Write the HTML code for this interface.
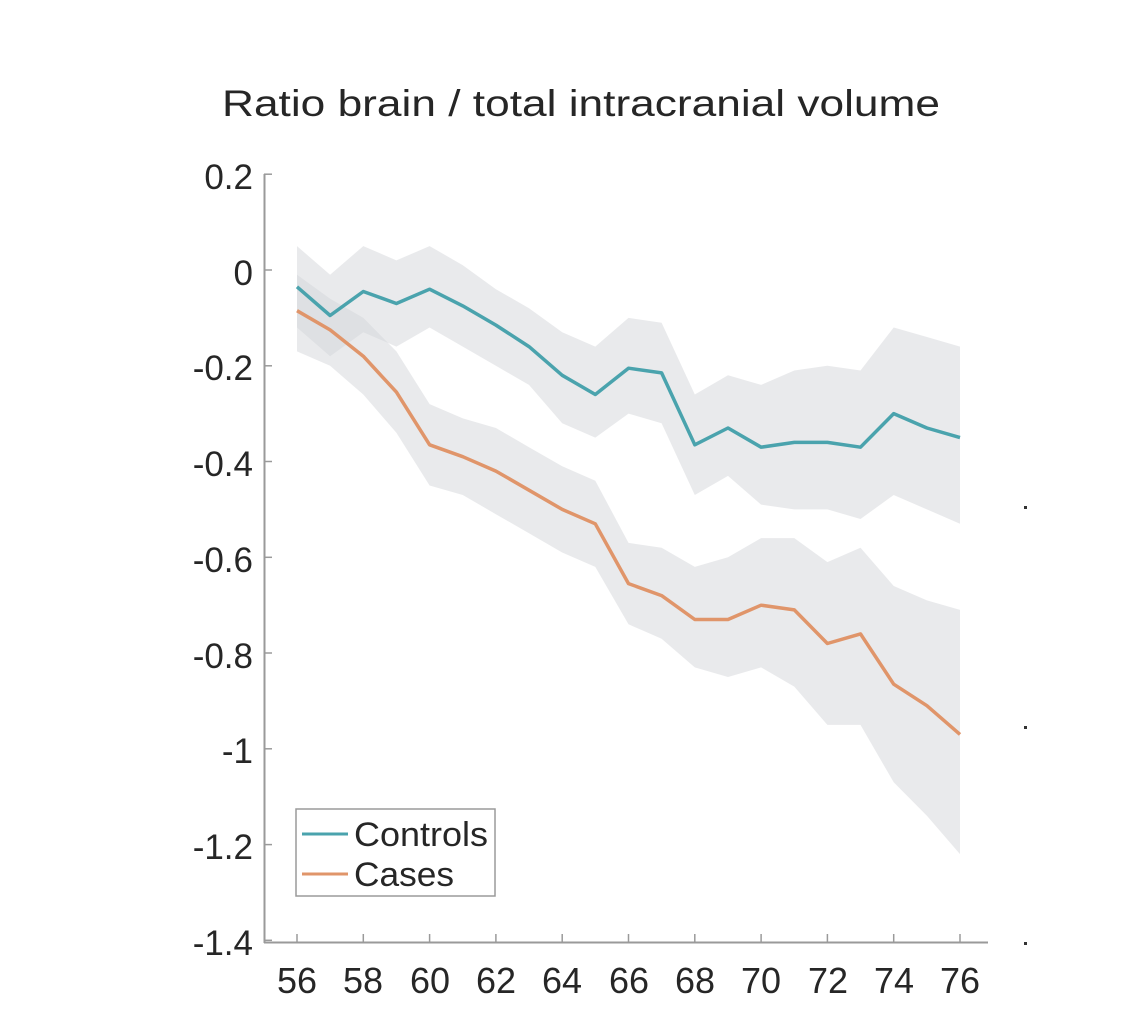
<!DOCTYPE html>
<html><head><meta charset="utf-8"><style>
html,body{margin:0;padding:0;background:#fff;}
svg{display:block;}
text{font-family:"Liberation Sans",Arial,sans-serif;fill:#262626;}
</style></head><body>
<svg id="s" width="1126" height="1028" viewBox="0 0 1126 1028" xmlns="http://www.w3.org/2000/svg">
<rect width="1126" height="1028" fill="#fff"/>
<text x="222" y="116" font-size="37" textLength="718" lengthAdjust="spacingAndGlyphs">Ratio brain / total intracranial volume</text>
<g id="bands"></g>
<g id="lines"></g>
<line x1="264.5" y1="174" x2="264.5" y2="943" stroke="#9a9a9a" stroke-width="2"/>
<line x1="264" y1="942.5" x2="988" y2="942.5" stroke="#9a9a9a" stroke-width="2"/>
<g id="ticks" stroke="#9a9a9a" stroke-width="1.5"></g>
<g font-size="35" text-anchor="end">
<text x="253" y="189">0.2</text>
<text x="253" y="285">0</text>
<text x="253" y="380">-0.2</text>
<text x="253" y="476">-0.4</text>
<text x="253" y="572">-0.6</text>
<text x="253" y="668">-0.8</text>
<text x="253" y="763">-1</text>
<text x="253" y="859">-1.2</text>
<text x="253" y="955">-1.4</text>
</g>
<g font-size="36" text-anchor="middle">
<text x="297" y="993">56</text><text x="363" y="993">58</text><text x="430" y="993">60</text>
<text x="496" y="993">62</text><text x="562" y="993">64</text><text x="629" y="993">66</text>
<text x="695" y="993">68</text><text x="761" y="993">70</text><text x="828" y="993">72</text>
<text x="894" y="993">74</text><text x="960" y="993">76</text>
</g>
<rect x="296" y="809" width="199" height="87" fill="#fff" stroke="#9a9a9a" stroke-width="1.5"/>
<line x1="302" y1="834" x2="348" y2="834" stroke="#4aa3ad" stroke-width="3"/>
<line x1="302" y1="874" x2="348" y2="874" stroke="#e0956a" stroke-width="3"/>
<text x="354" y="846" font-size="34" textLength="134" lengthAdjust="spacingAndGlyphs">Controls</text>
<text x="354" y="886" font-size="34" textLength="100" lengthAdjust="spacingAndGlyphs">Cases</text>
<rect x="1024" y="506" width="3" height="3" fill="#333"/>
<rect x="1024" y="726" width="3" height="3" fill="#333"/>
<rect x="1024" y="942" width="3" height="3" fill="#333"/>
</svg>
<script>
var X=function(a){return 297+(a-56)*33.15;},Y=function(v){return 270-v*478.8;};
var cm=[-0.035,-0.095,-0.045,-0.07,-0.04,-0.075,-0.115,-0.16,-0.22,-0.26,-0.205,-0.215,-0.365,-0.33,-0.37,-0.36,-0.36,-0.37,-0.3,-0.33,-0.35];
var ca=[-0.085,-0.125,-0.18,-0.255,-0.365,-0.39,-0.42,-0.46,-0.5,-0.53,-0.655,-0.68,-0.73,-0.73,-0.7,-0.71,-0.78,-0.76,-0.865,-0.91,-0.97];
var cu=[0.05,-0.01,0.05,0.02,0.05,0.01,-0.04,-0.08,-0.13,-0.16,-0.1,-0.11,-0.26,-0.22,-0.24,-0.21,-0.2,-0.21,-0.12,-0.14,-0.16];
var cl=[-0.12,-0.18,-0.13,-0.16,-0.12,-0.16,-0.2,-0.24,-0.32,-0.35,-0.3,-0.32,-0.47,-0.43,-0.49,-0.5,-0.5,-0.52,-0.47,-0.5,-0.53];
var au=[-0.01,-0.06,-0.1,-0.17,-0.28,-0.31,-0.33,-0.37,-0.41,-0.44,-0.57,-0.58,-0.62,-0.6,-0.56,-0.56,-0.61,-0.58,-0.66,-0.69,-0.71];
var al=[-0.17,-0.2,-0.26,-0.34,-0.45,-0.47,-0.51,-0.55,-0.59,-0.62,-0.74,-0.77,-0.83,-0.85,-0.83,-0.87,-0.95,-0.95,-1.07,-1.14,-1.22];
function pts(a){return a.map(function(v,i){return X(56+i).toFixed(1)+","+Y(v).toFixed(1);});}
function band(u,l){return '<polygon points="'+pts(u).concat(pts(l).reverse()).join(" ")+'" fill="#d4d6da" fill-opacity="0.5"/>';}
document.getElementById("bands").innerHTML=band(cu,cl)+band(au,al);
document.getElementById("lines").innerHTML='<polyline points="'+pts(cm).join(" ")+'" fill="none" stroke="#4aa3ad" stroke-width="3.5" stroke-linejoin="round"/><polyline points="'+pts(ca).join(" ")+'" fill="none" stroke="#e0956a" stroke-width="3.5" stroke-linejoin="round"/>';
var t="";
for(var v=0.2;v>-1.41;v-=0.2){var y=Y(v).toFixed(1);t+='<line x1="264" y1="'+y+'" x2="272" y2="'+y+'"/>';}
for(var a=56;a<=76;a+=2){var x=X(a).toFixed(1);t+='<line x1="'+x+'" y1="942" x2="'+x+'" y2="934"/>';}
document.getElementById("ticks").innerHTML=t;
</script>
</body></html>
